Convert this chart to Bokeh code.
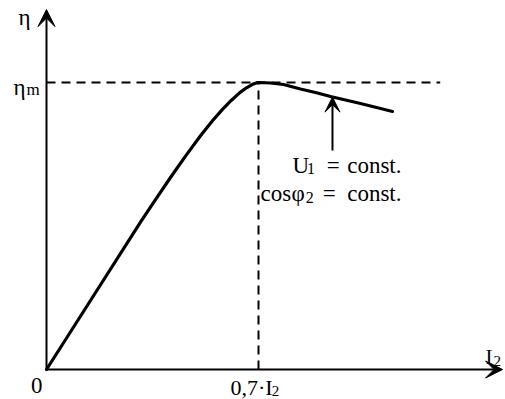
from bokeh.plotting import figure
from bokeh.models import Range1d, Arrow, VeeHead
from bokeh.core.properties import value
from bokeh.embed import file_html
from bokeh.resources import INLINE

# Efficiency curve eta(I2), normalised so that eta_m = 1 and rated I2 = 1
load_current = [0.0, 0.1453, 0.3104, 0.3599, 0.4094, 0.4590, 0.5085, 0.5481,
                0.5811, 0.6108, 0.6373, 0.6604, 0.6802, 0.6934, 0.7000, 0.7396,
                0.7825, 0.8387, 0.8948, 0.9377, 0.9873, 1.0368, 1.0896, 1.1425]
efficiency = [0.0, 0.2404, 0.5132, 0.5916, 0.6690, 0.7436, 0.8143, 0.8666,
              0.9063, 0.9383, 0.9638, 0.9815, 0.9937, 0.9986, 1.0000, 0.9983,
              0.9930, 0.9774, 0.9634, 0.9512, 0.9390, 0.9268, 0.9129, 0.8990]

peak_current = 0.7     # load at maximum efficiency
eta_max = 1.0          # eta_m
x_axis_end = 1.506
y_axis_end = 1.254
dash_end = 1.30
pointer_x = 0.9443
pointer_from = 0.763
pointer_to = 0.949

serif = value("Liberation Serif")
ink = "black"

p = figure(width=505, height=399,
           x_range=Range1d(-0.1519, 1.5156), y_range=Range1d(-0.1045, 1.2857),
           x_axis_type=None, y_axis_type=None,
           output_backend="svg", toolbar_location=None, min_border=0)
p.grid.visible = False
p.outline_line_color = None
p.background_fill_color = "white"
p.border_fill_color = "white"

# reference lines at eta_m and at 0.7*I2
p.line([0, dash_end], [eta_max, eta_max], line_color=ink, line_width=2, line_dash="9 6")
p.line([peak_current, peak_current], [0, eta_max], line_color=ink, line_width=2, line_dash="9 6")

# coordinate axes with arrow heads
p.add_layout(Arrow(end=VeeHead(size=17, fill_color=ink, line_color=ink),
                   x_start=0, y_start=0, x_end=x_axis_end, y_end=0,
                   line_color=ink, line_width=2))
p.add_layout(Arrow(end=VeeHead(size=17, fill_color=ink, line_color=ink),
                   x_start=0, y_start=0, x_end=0, y_end=y_axis_end,
                   line_color=ink, line_width=2))

# efficiency curve
p.line(load_current, efficiency, line_color=ink, line_width=3.2,
       line_join="round", line_cap="round")

# pointer to the curve
p.add_layout(Arrow(end=VeeHead(size=15, fill_color=ink, line_color=ink),
                   x_start=pointer_x, y_start=pointer_from, x_end=pointer_x, y_end=pointer_to,
                   line_color=ink, line_width=2))


def label(x, y, txt, size="23px", align="left"):
    p.text(x=[x], y=[y], text=[txt], text_font=serif, text_font_size=size,
           text_align=align, text_baseline="alphabetic", text_color=ink)


# axis titles
label(-0.0925, 1.2265, "η")
label(1.4495, 0.0420, "I", size="21px")
label(1.4760, 0.0300, "2", size="15px")

# tick labels
label(-0.0132, -0.0557, "0", align="right")
label(0.6075, -0.0627, "0,7·I", size="22px")
label(0.7440, -0.0740, "2", size="15px")
label(-0.1090, 0.9826, "η")
label(-0.0660, 0.9756, "m", size="17px")

# operating conditions
label(0.8124, 0.7108, "U")
label(0.8600, 0.7010, "1", size="16px")
label(0.9250, 0.7108, "=")
label(1.1722, 0.7108, "const.", align="right")
label(0.7066, 0.6132, "cos")
label(0.8090, 0.6132, "φ")
label(0.8560, 0.6010, "2", size="16px")
label(0.9120, 0.6132, "=")
label(1.1722, 0.6132, "const.", align="right")

open("out.html", "w").write(file_html(p, INLINE))
